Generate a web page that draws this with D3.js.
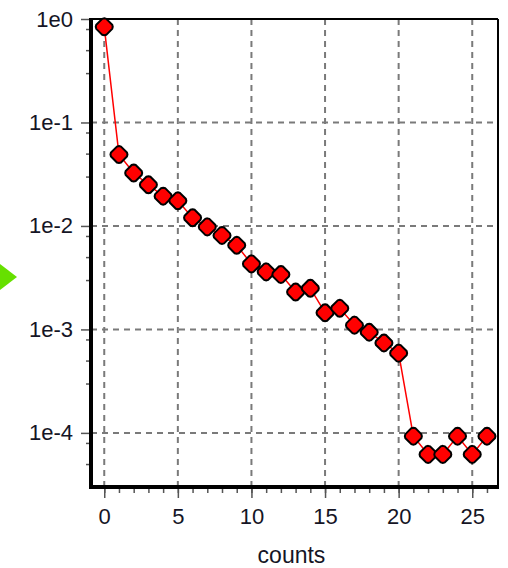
<!DOCTYPE html>
<html>
<head>
<meta charset="utf-8">
<script src="https://cdn.jsdelivr.net/npm/d3@7"></script>
<style>
  body { margin: 0; background: #fff; }
  svg text { font-family: "Liberation Sans", Arial, sans-serif; fill: #151525; }
</style>
</head>
<body>
<div id="chart"></div>
<script>
// values
var counts = [0, 1, 2, 3, 4, 5, 6, 7, 8, 9, 10, 11, 12, 13, 14, 15, 16, 17, 18, 19, 20, 21, 22, 23, 24, 25, 26];
var freq = [0.84, 0.049, 0.0325, 0.025, 0.0194, 0.0175, 0.012, 0.0098, 0.0081, 0.0065,
            0.0043, 0.0036, 0.0034, 0.0023, 0.0025, 0.00145, 0.0016, 0.0011, 0.00094, 0.00074,
            0.00059, 0.000093, 0.000062, 0.000062, 0.000093, 0.000062, 0.000093];
var xMajor = [0, 5, 10, 15, 20, 25];
var yMajor = [1, 1e-1, 1e-2, 1e-3, 1e-4];
var yMinor = [0.8, 0.5, 0.3, 0.08, 0.05, 0.03, 0.008, 0.005, 0.003,
              0.0008, 0.0005, 0.0003, 0.00008, 0.00005];

function init(){
    var w = 508, h = 568;
    var left = 91, right = 498, top = 19, bottom = 487;

    var svg = d3.select("#chart").append("svg")
                .attr("width", w)
                .attr("height", h);

    var x = d3.scaleLinear().domain([-0.9, 26.75]).range([left, right]);
    var y = d3.scaleLog().domain([1, 3.0e-5]).range([top, bottom]);

    // green marker on the left edge
    svg.append("path")
        .attr("d", "M0,264L17,277L0,290Z")
        .attr("fill", "#66e000");

    // grid
    svg.append("g").selectAll("line")
        .data(xMajor).enter().append("line")
        .attr("x1", function(d){ return x(d); })
        .attr("x2", function(d){ return x(d); })
        .attr("y1", top).attr("y2", bottom)
        .attr("stroke", "#7a7a7a").attr("stroke-width", 2)
        .attr("stroke-dasharray", "6,5");
    svg.append("g").selectAll("line")
        .data(yMajor).enter().append("line")
        .attr("y1", function(d){ return y(d); })
        .attr("y2", function(d){ return y(d); })
        .attr("x1", left).attr("x2", right)
        .attr("stroke", "#7a7a7a").attr("stroke-width", 2)
        .attr("stroke-dasharray", "6,5");

    // minor ticks
    svg.append("g")
        .attr("transform", "translate(0," + bottom + ")")
        .call(d3.axisBottom(x).tickValues(counts).tickSize(6).tickFormat(""))
        .call(function(g){ g.select(".domain").remove(); })
        .selectAll("line").attr("stroke", "#555").attr("stroke-width", 1.5);
    svg.append("g")
        .attr("transform", "translate(" + left + ",0)")
        .call(d3.axisLeft(y).tickValues(yMinor).tickSize(5).tickFormat(""))
        .call(function(g){ g.select(".domain").remove(); })
        .selectAll("line").attr("stroke", "#555").attr("stroke-width", 1.5);

    // major ticks + labels
    var xa = svg.append("g")
        .attr("transform", "translate(0," + bottom + ")")
        .call(d3.axisBottom(x).tickValues(xMajor).tickSize(11).tickPadding(10));
    xa.select(".domain").remove();
    xa.selectAll("line").attr("stroke", "#555").attr("stroke-width", 1.5);
    xa.selectAll("text").attr("font-size", 22).attr("font-family", null);

    var ya = svg.append("g")
        .attr("transform", "translate(" + left + ",0)")
        .call(d3.axisLeft(y).tickValues(yMajor).tickSize(10).tickPadding(8)
              .tickFormat(function(d){ return "1e" + Math.round(Math.log10(d)); }));
    ya.select(".domain").remove();
    ya.selectAll("line").attr("stroke", "#555").attr("stroke-width", 1.5);
    ya.selectAll("text").attr("font-size", 22).attr("font-family", null);

    // frame
    svg.append("line").attr("x1", left).attr("x2", right).attr("y1", top).attr("y2", top)
        .attr("stroke", "#000").attr("stroke-width", 2);
    svg.append("line").attr("x1", right).attr("x2", right).attr("y1", top).attr("y2", bottom)
        .attr("stroke", "#000").attr("stroke-width", 2);
    svg.append("line").attr("x1", left).attr("x2", left).attr("y1", top - 1).attr("y2", bottom + 2)
        .attr("stroke", "#000").attr("stroke-width", 4);
    svg.append("line").attr("x1", left - 2).attr("x2", right + 1).attr("y1", bottom).attr("y2", bottom)
        .attr("stroke", "#000").attr("stroke-width", 4);

    // x label
    svg.append("text")
        .attr("x", (left + right) / 2 - 3)
        .attr("y", 563)
        .attr("text-anchor", "middle")
        .attr("font-size", 23)
        .text("counts");

    // series
    var line = d3.line()
        .x(function(d, i){ return x(counts[i]); })
        .y(function(d){ return y(d); });
    svg.append("path")
        .datum(freq)
        .attr("d", line)
        .attr("fill", "none")
        .attr("stroke", "#ff0000")
        .attr("stroke-width", 1.5);

    // rounded diamond marker
    var marker = "M0,-8.5L2,-8L8,-2L8.5,0L8,2L2,8L0,8.5L-2,8L-8,2L-8.5,0L-8,-2L-2,-8Z";
    svg.append("g").selectAll("path")
        .data(freq).enter().append("path")
        .attr("d", marker)
        .attr("transform", function(d, i){ return "translate(" + x(counts[i]) + "," + y(d) + ")"; })
        .attr("fill", "#ff0000")
        .attr("stroke", "#000")
        .attr("stroke-width", 2);
}
window.onload = init;
</script>
</body>
</html>
